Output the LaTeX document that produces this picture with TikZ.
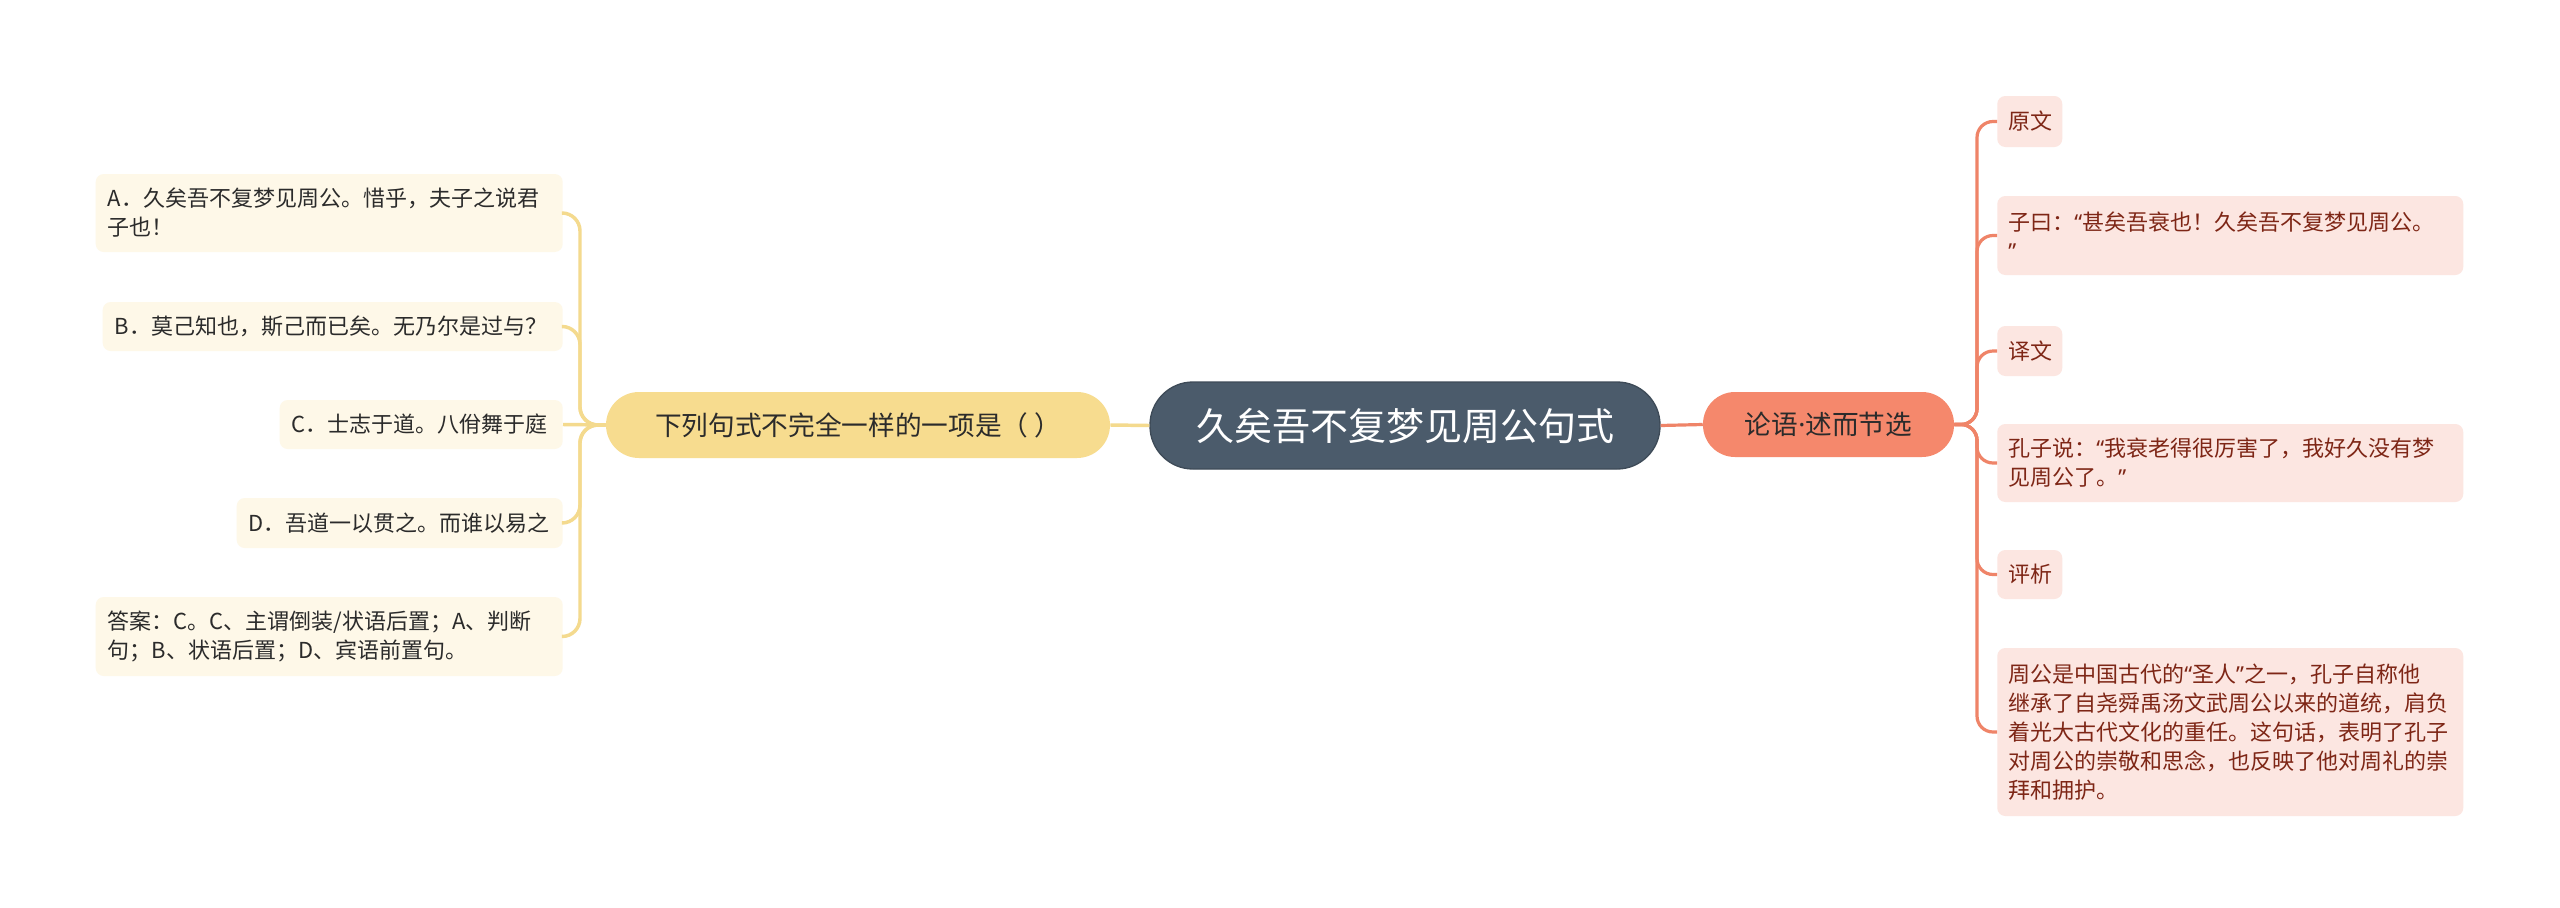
\documentclass[tikz,border=0pt]{standalone}
\usepackage{fontspec}
\setmainfont{Noto Sans CJK SC}
\newfontfamily\latinq{Noto Sans}
\newcommand\oqt{{\latinq “}}
\newcommand\cqt{{\latinq ”}}
\newcommand\mdot{{\latinq ·}}
\newdimen\pxu \pxu=0.75pt
\definecolor{cfill}{HTML}{4B5B6B}
\definecolor{cborder}{HTML}{3E4B58}
\definecolor{qfill}{HTML}{F7DC8F}
\definecolor{yline}{HTML}{F4DA8E}
\definecolor{ofill}{HTML}{F5886C}
\definecolor{oline}{HTML}{EF8468}
\definecolor{pinkbox}{HTML}{FCE6E1}
\definecolor{pinktext}{HTML}{7E2616}
\definecolor{creambox}{HTML}{FEF8E8}
\definecolor{darktext}{HTML}{2B2B2B}
\newcommand\fsCentral{\fontsize{28.5}{34}\selectfont}
\newcommand\fsMain{\fontsize{20}{24}\selectfont}
\newcommand\fsLeaf{\fontsize{16.5}{21.75}\selectfont}
\tikzset{
  central/.style={fill=cfill, draw=cborder, line width=1pt, text=white, font=\fsCentral,
    minimum width=510\pxu, minimum height=87\pxu, rounded corners=43\pxu, inner sep=0pt},
  qnode/.style={fill=qfill, text=darktext, font=\fsMain,
    minimum width=504\pxu, minimum height=66\pxu, rounded corners=33\pxu, inner sep=0pt},
  onode/.style={fill=ofill, text=darktext, font=\fsMain,
    minimum width=251\pxu, minimum height=65\pxu, rounded corners=32\pxu, inner sep=0pt},
  leftleaf/.style={fill=creambox, text=darktext, font=\fsLeaf, align=left,
    rounded corners=8\pxu, inner xsep=12\pxu, inner ysep=0pt, anchor=east, minimum height=49\pxu},
  rightleaf/.style={fill=pinkbox, text=pinktext, font=\fsLeaf, align=left,
    rounded corners=8\pxu, inner xsep=11\pxu, inner ysep=0pt, anchor=west, minimum height=49\pxu},
  ylink/.style={draw=yline, line width=2.6pt, rounded corners=18\pxu},
  olink/.style={draw=oline, line width=2.4pt, rounded corners=16\pxu},
}
\begin{document}
\begin{tikzpicture}[x=0.75pt,y=-0.75pt]
\useasboundingbox (0,0) rectangle (2560,907);
\fill[white] (0,0) rectangle (2560,907);

% main nodes
\node[central] (c) at (1405,425.5) {久矣吾不复梦见周公句式};
\node[qnode] (q) at (858,425) {下列句式不完全一样的一项是（ ）};
\node[onode] (o) at (1828.5,424.5) {论语\mdot 述而节选};

% left leaves
\node[leftleaf, text width=443\pxu, minimum height=78\pxu] (la) at (563,213)
  {A．久矣吾不复梦见周公。惜乎，夫子之说君\\子也！};
\node[leftleaf, text width=436\pxu] (lb) at (563,326.5)
  {B．莫己知也，斯己而已矣。无乃尔是过与？};
\node[leftleaf, text width=259\pxu] (lc) at (563,424.5)
  {C．士志于道。八佾舞于庭};
\node[leftleaf, text width=302\pxu, minimum height=50\pxu] (ld) at (563,523)
  {D．吾道一以贯之。而谁以易之};
\node[leftleaf, text width=443\pxu, minimum height=79\pxu] (le) at (563,636.5)
  {答案：C。C、主谓倒装/状语后置；A、判断\\句；B、状语后置；D、宾语前置句。};

% right leaves
\node[rightleaf, text width=43\pxu, minimum height=51\pxu] (r1) at (1997,121.5) {原文};
\node[rightleaf, text width=444\pxu, minimum height=79\pxu] (r2) at (1997,235.5)
  {子曰：\oqt 甚矣吾衰也！久矣吾不复梦见周公。\\\cqt};
\node[rightleaf, text width=43\pxu, minimum height=50\pxu] (r3) at (1997,351) {译文};
\node[rightleaf, text width=444\pxu, minimum height=78\pxu] (r4) at (1997,463)
  {孔子说：\oqt 我衰老得很厉害了，我好久没有梦\\见周公了。\cqt};
\node[rightleaf, text width=43\pxu, minimum height=49\pxu] (r5) at (1997,574.5) {评析};
\node[rightleaf, text width=444\pxu, minimum height=168\pxu] (r6) at (1997,732)
  {周公是中国古代的\oqt 圣人\cqt 之一，孔子自称他\\继承了自尧舜禹汤文武周公以来的道统，肩负\\着光大古代文化的重任。这句话，表明了孔子\\对周公的崇敬和思念，也反映了他对周礼的崇\\拜和拥护。};

% junctions
\coordinate (lj) at (580,425);
\coordinate (rj) at (1977,424.5);

% connectors
\draw[ylink] (c.west) -- (q.east);
\draw[olink] (c.east) -- (o.west);
\draw[ylink] (q.west) -- (lj) |- (la.east);
\draw[ylink] (q.west) -- (lj) |- (lb.east);
\draw[ylink] (q.west) -- (lc.east);
\draw[ylink] (q.west) -- (lj) |- (ld.east);
\draw[ylink] (q.west) -- (lj) |- (le.east);
\draw[olink] (o.east) -- (rj) |- (r1.west);
\draw[olink] (o.east) -- (rj) |- (r2.west);
\draw[olink] (o.east) -- (rj) |- (r3.west);
\draw[olink] (o.east) -- (rj) |- (r4.west);
\draw[olink] (o.east) -- (rj) |- (r5.west);
\draw[olink] (o.east) -- (rj) |- (r6.west);
\end{tikzpicture}
\end{document}
